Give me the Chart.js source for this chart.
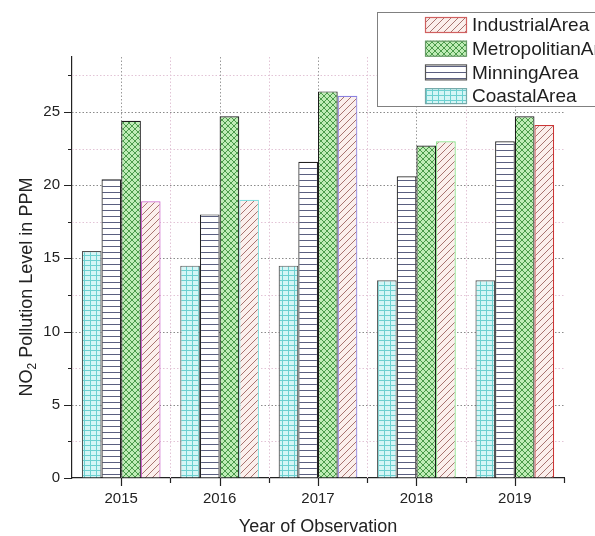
<!DOCTYPE html>
<html>
<head>
<meta charset="utf-8">
<script src="https://cdn.jsdelivr.net/npm/chart.js"></script>
<style>
  html, body { margin: 0; padding: 0; background: #fff; }
  canvas { display: block; }
</style>
</head>
<body>
<canvas id="no2Chart" width="595" height="536"></canvas>
<script>
// NO2 levels (PPM) per year and area
const years = ['2015', '2016', '2017', '2018', '2019'];
const coastal = [15.5, 14.5, 14.5, 13.5, 13.5];
const minning = [20.4, 18.0, 21.6, 20.6, 23.0];
const metropolitan = [24.4, 24.7, 26.4, 22.7, 24.7];
const industrial = [18.9, 19.0, 26.1, 23.0, 24.1];
const yTicks = [0, 5, 10, 15, 20, 25];

const FONT = '"Liberation Sans", Arial, sans-serif';

// small tiles used as fill patterns
function makePattern(w, h, bg, draw) {
  const c = document.createElement('canvas');
  c.width = w; c.height = h;
  const g = c.getContext('2d');
  g.fillStyle = bg;
  g.fillRect(0, 0, w, h);
  draw(g, w, h);
  return g.createPattern(c, 'repeat');
}

const ctx = document.getElementById('no2Chart').getContext('2d');

const gridFill = makePattern(6, 5, '#d4f6f6', (g, w, h) => {
  g.fillStyle = '#6cd0d0';
  g.fillRect(0, 0, w, 1);
  g.fillRect(0, 0, 1, h);
});
const lineFill = makePattern(4, 6, '#ffffff', (g, w) => {
  g.fillStyle = '#5a5f80';
  g.fillRect(0, 0, w, 1);
});
const crossFill = makePattern(6, 6, '#bfecb6', (g, w, h) => {
  g.strokeStyle = '#4a9a4a';
  g.lineWidth = 1;
  g.beginPath();
  g.moveTo(0, 0); g.lineTo(w, h);
  g.moveTo(0, h); g.lineTo(w, 0);
  g.stroke();
});
const hatchFill = makePattern(7, 7, '#fbefec', (g, w, h) => {
  g.strokeStyle = '#a87470';
  g.lineWidth = 1;
  g.beginPath();
  g.moveTo(0, h); g.lineTo(w, 0);
  g.moveTo(-1, 1); g.lineTo(1, -1);
  g.moveTo(w - 1, h + 1); g.lineTo(w + 1, h - 1);
  g.stroke();
});

const industrialEdges = ['#cc66cc', '#80dede', '#8a80e0', '#80e080', '#cc3636'];

// dotted grid, tick marks, axis titles and the boxed legend
const frame = {
  id: 'frame',
  beforeDatasetsDraw(chart) {
    const { ctx, chartArea: a, scales: { x, y } } = chart;
    ctx.save();
    ctx.lineWidth = 1;
    ctx.setLineDash([1.5, 2]);
    for (let v = 2.5; v < y.max; v += 2.5) {
      const py = Math.round(y.getPixelForValue(v)) + 0.5;
      ctx.strokeStyle = v % 5 === 0 ? '#8a8a8a' : '#e2c4d6';
      ctx.beginPath(); ctx.moveTo(a.left, py); ctx.lineTo(a.right, py); ctx.stroke();
    }
    const step = (a.right - a.left) / years.length;
    years.forEach((yr, i) => {
      const px = Math.round(x.getPixelForValue(i)) + 0.5;
      ctx.strokeStyle = '#9a9a9a';
      ctx.beginPath(); ctx.moveTo(px, a.top); ctx.lineTo(px, a.bottom); ctx.stroke();
      if (i > 0) {
        const bx = Math.round(a.left + step * i) + 0.5;
        ctx.strokeStyle = '#e2c4d6';
        ctx.beginPath(); ctx.moveTo(bx, a.top); ctx.lineTo(bx, a.bottom); ctx.stroke();
      }
    });
    ctx.restore();
  },
  afterDraw(chart) {
    const { ctx, chartArea: a, scales: { x, y } } = chart;
    ctx.save();
    ctx.strokeStyle = '#222';
    ctx.lineWidth = 1.2;
    ctx.beginPath();
    // y ticks
    for (let v = 0; v < y.max; v += 2.5) {
      const py = Math.round(y.getPixelForValue(v)) + 0.5;
      const len = v % 5 === 0 ? 8 : 4;
      ctx.moveTo(a.left, py); ctx.lineTo(a.left - len, py);
    }
    // x ticks: centres long, boundaries short
    const step = (a.right - a.left) / years.length;
    years.forEach((yr, i) => {
      const px = Math.round(x.getPixelForValue(i)) + 0.5;
      ctx.moveTo(px, a.bottom); ctx.lineTo(px, a.bottom + 8);
    });
    for (let i = 1; i <= years.length; i++) {
      const bx = Math.round(a.left + step * i) + 0.5;
      ctx.moveTo(bx, a.bottom); ctx.lineTo(bx, a.bottom + 5);
    }
    ctx.stroke();

    // axis titles
    ctx.fillStyle = '#222';
    ctx.font = '18px ' + FONT;
    ctx.textAlign = 'center';
    ctx.textBaseline = 'middle';
    ctx.fillText('Year of Observation', (a.left + a.right) / 2, 527);

    ctx.translate(27, 287);
    ctx.rotate(-Math.PI / 2);
    const partA = 'NO', partB = '2', partC = ' Pollution Level in PPM';
    ctx.font = '18px ' + FONT;
    const wA = ctx.measureText(partA).width, wC = ctx.measureText(partC).width;
    ctx.font = '12px ' + FONT;
    const wB = ctx.measureText(partB).width;
    let sx = -(wA + wB + wC) / 2;
    ctx.textAlign = 'left';
    ctx.font = '18px ' + FONT;
    ctx.fillText(partA, sx, 0);
    ctx.font = '12px ' + FONT;
    ctx.fillText(partB, sx + wA, 6);
    ctx.font = '18px ' + FONT;
    ctx.fillText(partC, sx + wA + wB, 0);
    ctx.setTransform(1, 0, 0, 1, 0, 0);

    // legend, top entry is the last dataset
    const lx = 377, ly = 12, lw = 240, lh = 94;
    ctx.fillStyle = '#fff';
    ctx.fillRect(lx, ly, lw, lh);
    ctx.strokeStyle = '#808080';
    ctx.lineWidth = 1;
    ctx.strokeRect(lx + 0.5, ly + 0.5, lw, lh);
    const sets = chart.data.datasets.slice().reverse();
    ctx.font = '19px ' + FONT;
    ctx.textAlign = 'left';
    ctx.textBaseline = 'middle';
    sets.forEach((ds, i) => {
      const cy = 25 + i * 23.7;
      ctx.fillStyle = ds.backgroundColor;
      ctx.fillRect(425, cy - 8, 42, 16);
      ctx.strokeStyle = ds.legendEdge;
      ctx.lineWidth = 1.2;
      ctx.strokeRect(425.5, cy - 7.5, 41, 15);
      ctx.fillStyle = '#1e1e1e';
      ctx.fillText(ds.label, 472, cy + 1);
    });
    ctx.restore();
  }
};

new Chart(ctx, {
  type: 'bar',
  data: {
    labels: years,
    datasets: [
      { label: 'CoastalArea', data: coastal, backgroundColor: gridFill, borderColor: '#555', legendEdge: '#7aa', borderWidth: 1.2 },
      { label: 'MinningArea', data: minning, backgroundColor: lineFill, borderColor: '#222', legendEdge: '#555', borderWidth: 1.2 },
      { label: 'MetropolitianArea', data: metropolitan, backgroundColor: crossFill, borderColor: '#1c1c1c', legendEdge: '#6a9a6a', borderWidth: 1.2 },
      { label: 'IndustrialArea', data: industrial, backgroundColor: hatchFill, borderColor: industrialEdges, legendEdge: '#d06060', borderWidth: 1.2 }
    ]
  },
  options: {
    responsive: false,
    animation: false,
    devicePixelRatio: 1,
    layout: { padding: { top: 57, right: 31, left: 0, bottom: 0 } },
    datasets: { bar: { categoryPercentage: 0.8, barPercentage: 1.0 } },
    plugins: { legend: { display: false }, tooltip: { enabled: false } },
    scales: {
      x: {
        grid: { color: 'rgba(0,0,0,0)', tickLength: 8 },
        border: { display: true, color: '#222', width: 1.2 },
        ticks: { font: { family: FONT, size: 15 }, color: '#222', padding: 4 },
        afterFit: s => { s.height = 58; }
      },
      y: {
        min: 0,
        max: 28.75,
        grid: { color: 'rgba(0,0,0,0)', tickLength: 8 },
        border: { display: true, color: '#222', width: 1.2 },
        afterBuildTicks: s => { s.ticks = yTicks.map(v => ({ value: v })); },
        ticks: { font: { family: FONT, size: 15 }, color: '#222', padding: 4 },
        afterFit: s => { s.width = 72; }
      }
    }
  },
  plugins: [frame]
});
</script>
</body>
</html>
